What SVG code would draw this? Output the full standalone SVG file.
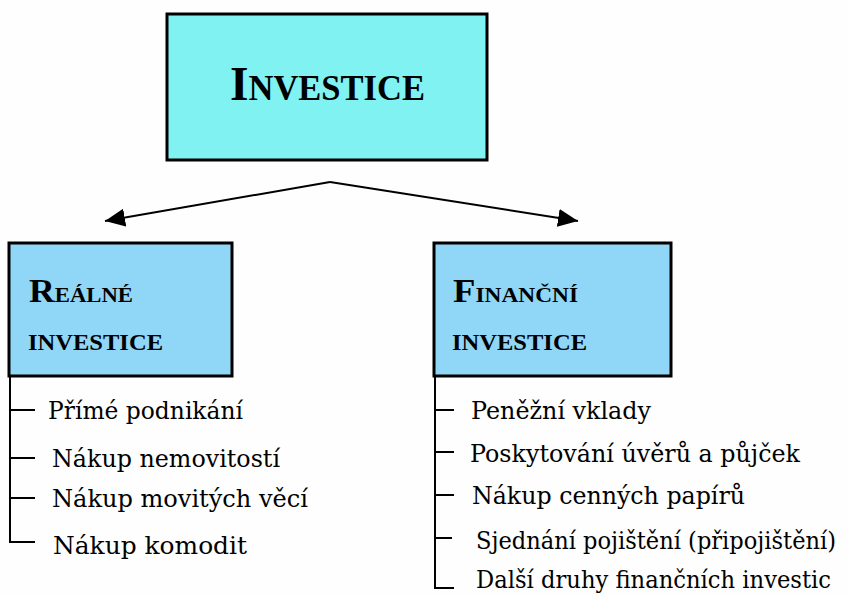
<svg xmlns="http://www.w3.org/2000/svg" width="849" height="597" viewBox="0 0 849 597">
<style>
.box{stroke:#000;stroke-width:3}
.top{fill:#80f2f2}
.sub{fill:#90d6f6}
.hd{font-family:"Liberation Serif","Times New Roman",serif;font-weight:bold;fill:#000}
.it{font-family:"DejaVu Serif","Liberation Serif",serif;font-size:24px;fill:#000}
.ln{stroke:#000;stroke-width:2;fill:none}
</style>
<defs>
<marker id="ahb" viewBox="0 0 20 18" refX="20" refY="9" markerWidth="20" markerHeight="18" markerUnits="userSpaceOnUse" orient="auto">
<path d="M0,0 L20,9 L0,18 z" fill="#000"/>
</marker>
</defs>
<rect x="0" y="0" width="849" height="597" fill="#fdfefd"/>
<g id="investice">
<rect class="box top" x="167" y="14" width="320" height="146"/>
<text class="hd" x="230" y="100" textLength="195" lengthAdjust="spacingAndGlyphs"><tspan font-size="48">I</tspan><tspan font-size="35">NVESTICE</tspan></text>
</g>
<g id="realne">
<rect class="box sub" x="9" y="243" width="223" height="133"/>
<text class="hd" x="29" y="302" textLength="104" lengthAdjust="spacingAndGlyphs"><tspan font-size="33">R</tspan><tspan font-size="21">EÁLNÉ</tspan></text>
<text class="hd" x="28" y="350" font-size="24" textLength="135" lengthAdjust="spacingAndGlyphs">INVESTICE</text>
</g>
<g id="financni">
<rect class="box sub" x="434" y="243" width="237" height="133"/>
<text class="hd" x="453" y="302" textLength="125" lengthAdjust="spacingAndGlyphs"><tspan font-size="33">F</tspan><tspan font-size="21">INANČNÍ</tspan></text>
<text class="hd" x="452" y="350" font-size="24" textLength="135" lengthAdjust="spacingAndGlyphs">INVESTICE</text>
</g>
<g id="connectors">
<path class="ln" d="M330,182 L105,221" marker-end="url(#ahb)"/>
<path class="ln" d="M330,182 L578,221" marker-end="url(#ahb)"/>
<path class="ln" d="M10,377 V542 H35 M10,410 H35 M10,458 H35 M10,498 H35"/>
<path class="ln" d="M435,377 V588 H454 M435,410 H454 M435,452 H454 M435,495 H454 M435,538 H452"/>
</g>
<g id="realne-items">
<text class="it" x="48" y="419" textLength="195" lengthAdjust="spacingAndGlyphs">Přímé podnikání</text>
<text class="it" x="52" y="467" textLength="228" lengthAdjust="spacingAndGlyphs">Nákup nemovitostí</text>
<text class="it" x="52" y="507" textLength="256" lengthAdjust="spacingAndGlyphs">Nákup movitých věcí</text>
<text class="it" x="53" y="554" textLength="194" lengthAdjust="spacingAndGlyphs">Nákup komodit</text>
</g>
<g id="financni-items">
<text class="it" x="471" y="419" textLength="180" lengthAdjust="spacingAndGlyphs">Peněžní vklady</text>
<text class="it" x="470" y="462" textLength="330" lengthAdjust="spacingAndGlyphs">Poskytování úvěrů a půjček</text>
<text class="it" x="472" y="504" textLength="273" lengthAdjust="spacingAndGlyphs">Nákup cenných papírů</text>
<text class="it" transform="translate(476 549) scale(0.5 1)" x="0" y="0" textLength="720" lengthAdjust="spacingAndGlyphs">Sjednání pojištění (připojištění)</text>
<text class="it" transform="translate(476 588) scale(0.5 1)" x="0" y="0" textLength="710" lengthAdjust="spacingAndGlyphs">Další druhy finančních investic</text>
</g>
</svg>
